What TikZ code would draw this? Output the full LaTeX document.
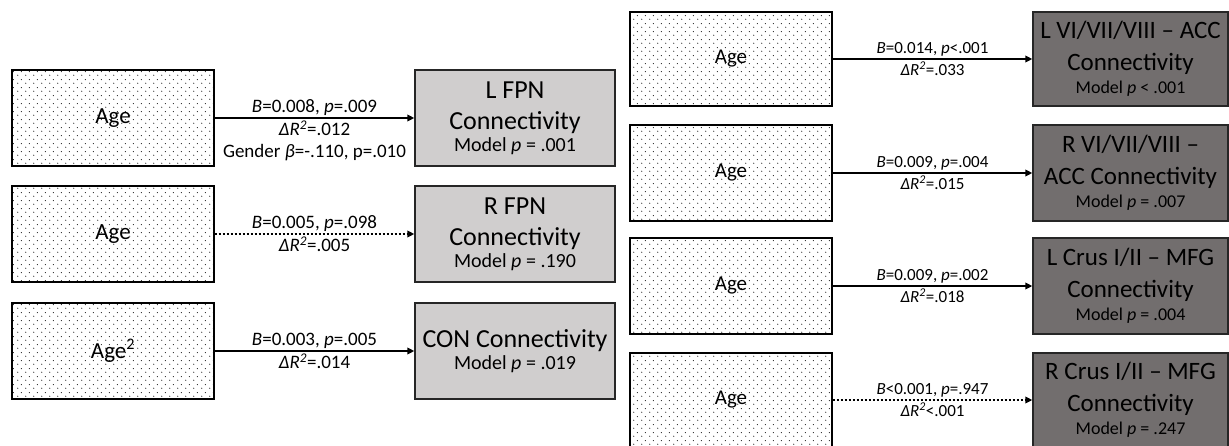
\documentclass[tikz,border=0pt]{standalone}
\usepackage{fontspec}
\setmainfont{Carlito}
\usetikzlibrary{arrows.meta,patterns}

% sparse staggered dot fill for the predictor boxes
\pgfdeclarepatternformonly{sparsedots}{\pgfqpoint{0pt}{0pt}}{\pgfqpoint{8pt}{8pt}}{\pgfqpoint{8pt}{8pt}}{%
  \pgfpathcircle{\pgfqpoint{2pt}{2pt}}{0.65pt}%
  \pgfpathcircle{\pgfqpoint{6pt}{6pt}}{0.65pt}%
  \pgfusepath{fill}}

\definecolor{lightbox}{HTML}{D0CECE}
\definecolor{darkbox}{HTML}{726E6E}

\newcommand{\modelline}[1]{{\fontsize{20}{22}\selectfont Model \textit{p} #1}}
\newcommand{\rmodelline}[1]{{\fontsize{18}{22}\selectfont Model \textit{p} #1}}

\begin{document}
\begin{tikzpicture}[x=1pt,y=-1pt,
  agebox/.style={draw=black, line width=1.3pt, pattern=sparsedots, pattern color=black!85,
    minimum width=202pt, inner sep=0pt},
  agebigfont/.style={font=\fontsize{23}{27}\selectfont},
  agesmallfont/.style={font=\fontsize{21}{25}\selectfont},
  outlight/.style={draw=black!85, line width=1.3pt, fill=lightbox, minimum width=200pt,
    inner sep=0pt, align=center, font=\fontsize{26}{31}\selectfont},
  outdark/.style={draw=black!85, line width=1.3pt, fill=darkbox, minimum width=195pt,
    inner sep=0pt, align=center, font=\fontsize{25}{32}\selectfont},
  solidarrow/.style={line width=2pt, -{Triangle[length=7pt,width=6.5pt]}},
  dotarrow/.style={line width=2pt, dash pattern=on 2pt off 2pt, -{Triangle[length=7pt,width=6.5pt]}},
  labup/.style={above, inner sep=1.5pt, font=\fontsize{19}{22}\selectfont},
  labdown/.style={below, inner sep=2pt, align=center, font=\fontsize{19}{22}\selectfont},
  rlabup/.style={above, inner sep=1.5pt, font=\fontsize{17}{20}\selectfont},
  rlabdown/.style={below, inner sep=2pt, align=center, font=\fontsize{17}{20}\selectfont}
]
\useasboundingbox (0,0) rectangle (1229,445);

% ---- left panel: predictors
\node[agebox, agebigfont, minimum height=96pt] (a1) at (113,118) {Age};
\node[agebox, agebigfont, minimum height=96pt] (a2) at (113,234) {Age};
\node[agebox, agebigfont, minimum height=96pt] (a3) at (113,351) {Age\textsuperscript{2}};

% ---- left panel: outcomes
\node[outlight, minimum height=96pt] (f1) at (515,118)
  {L FPN\\Connectivity\\[-9pt]\modelline{= .001}};
\node[outlight, minimum height=96pt] (f2) at (515,234)
  {R FPN\\Connectivity\\[-9pt]\modelline{= .190}};
\node[outlight, minimum height=96pt] (f3) at (515,351)
  {CON Connectivity\\[-9pt]\modelline{= .019}};

% ---- left panel: paths
\draw[solidarrow] (a1) -- node[labup]{\textit{B}=0.008, \textit{p}=.009}
  node[labdown]{\textit{ΔR\textsuperscript{2}}=.012\\Gender \textit{β}=-.110, p=.010} (f1);
\draw[dotarrow] (a2) -- node[labup]{\textit{B}=0.005, \textit{p}=.098}
  node[labdown]{\textit{ΔR\textsuperscript{2}}=.005} (f2);
\draw[solidarrow] (a3) -- node[labup]{\textit{B}=0.003, \textit{p}=.005}
  node[labdown]{\textit{ΔR\textsuperscript{2}}=.014} (f3);

% ---- right panel: predictors
\node[agebox, agesmallfont, minimum height=94pt] (b1) at (731,59) {Age};
\node[agebox, agesmallfont, minimum height=96pt] (b2) at (731,173) {Age};
\node[agebox, agesmallfont, minimum height=96pt] (b3) at (731,286) {Age};
\node[agebox, agesmallfont, minimum height=94pt] (b4) at (731,400) {Age};

% ---- right panel: outcomes
\node[outdark, minimum height=94pt] (d1) at (1130.5,59)
  {L VI/VII/VIII -- ACC\\Connectivity\\[-9pt]\rmodelline{< .001}};
\node[outdark, minimum height=96pt] (d2) at (1130.5,173)
  {R VI/VII/VIII --\\ACC Connectivity\\[-9pt]\rmodelline{= .007}};
\node[outdark, minimum height=96pt] (d3) at (1130.5,286)
  {L Crus I/II -- MFG\\Connectivity\\[-9pt]\rmodelline{= .004}};
\node[outdark, minimum height=94pt] (d4) at (1130.5,400)
  {R Crus I/II -- MFG\\Connectivity\\[-9pt]\rmodelline{= .247}};

% ---- right panel: paths
\draw[solidarrow] (b1) -- node[rlabup]{\textit{B}=0.014, \textit{p}<.001}
  node[rlabdown]{\textit{ΔR\textsuperscript{2}}=.033} (d1);
\draw[solidarrow] (b2) -- node[rlabup]{\textit{B}=0.009, \textit{p}=.004}
  node[rlabdown]{\textit{ΔR\textsuperscript{2}}=.015} (d2);
\draw[solidarrow] (b3) -- node[rlabup]{\textit{B}=0.009, \textit{p}=.002}
  node[rlabdown]{\textit{ΔR\textsuperscript{2}}=.018} (d3);
\draw[dotarrow] (b4) -- node[rlabup]{\textit{B}<0.001, \textit{p}=.947}
  node[rlabdown]{\textit{ΔR\textsuperscript{2}}<.001} (d4);
\end{tikzpicture}
\end{document}
